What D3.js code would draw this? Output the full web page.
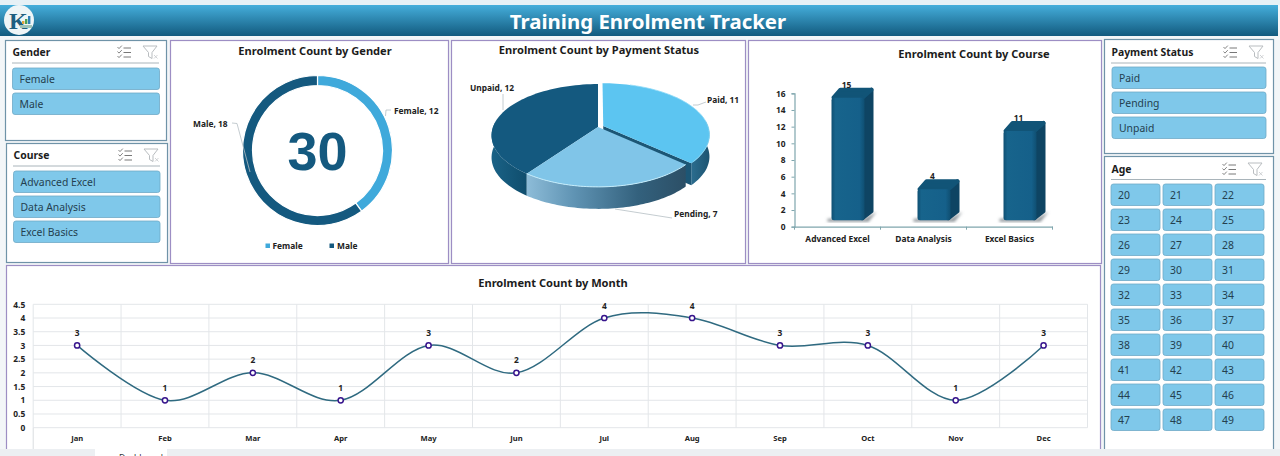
<!DOCTYPE html>
<html>
<head>
<meta charset="utf-8">
<script src="https://cdn.jsdelivr.net/npm/d3@7/dist/d3.min.js"></script>
<style>
html, body { margin: 0; padding: 0; background: #fff; overflow: hidden; }
svg { display: block; }
text { font-family: "Noto Sans", sans-serif; }
</style>
</head>
<body>
<svg id="dash" width="1280" height="456"></svg>
<script>
// data
const genderLabels = ["Female", "Male"];
const genderValues = [12, 18];
const paymentLabels = ["Paid", "Pending", "Unpaid"];
const paymentValues = [11, 7, 12];
const courseLabels = ["Advanced Excel", "Data Analysis", "Excel Basics"];
const courseValues = [15, 4, 11];
const courseTicks = [0, 2, 4, 6, 8, 10, 12, 14, 16];
const months = ["Jan", "Feb", "Mar", "Apr", "May", "Jun", "Jul", "Aug", "Sep", "Oct", "Nov", "Dec"];
const monthValues = [3, 1, 2, 1, 3, 2, 4, 4, 3, 3, 1, 3];
const monthTicks = [0, 0.5, 1, 1.5, 2, 2.5, 3, 3.5, 4, 4.5];
const ages = d3.range(20, 50);

const svg = d3.select("#dash");
const defs = svg.append("defs");
const ink = "#1c1c1c";
const labelSize = 8.4;

function vGrad(id, c1, c2) {
  const g = defs.append("linearGradient").attr("id", id).attr("x1", 0).attr("x2", 0).attr("y1", 0).attr("y2", 1);
  g.append("stop").attr("offset", 0).attr("stop-color", c1);
  g.append("stop").attr("offset", 1).attr("stop-color", c2);
}
function hGrad(id, stops) {
  const g = defs.append("linearGradient").attr("id", id).attr("gradientUnits", "objectBoundingBox");
  stops.forEach(s => g.append("stop").attr("offset", s[0]).attr("stop-color", s[1]));
}
vGrad("headGrad", "#45aedb", "#125a7e");
hGrad("pendWall", [[0, "#8dbcd8"], [0.3, "#5f93b3"], [0.7, "#33617d"], [1, "#2c4f66"]]);
hGrad("paidWall", [[0, "#2b6d8f"], [1, "#1d5471"]]);
hGrad("unpaidWall", [[0, "#1a6286"], [1, "#0f4d6d"]]);
hGrad("barFront", [[0, "#0f5073"], [0.12, "#17648c"], [0.85, "#15608a"], [1, "#0f4f72"]]);
defs.append("filter").attr("id", "soft").append("feGaussianBlur").attr("stdDeviation", 1.6);

// page background and header
svg.append("rect").attr("width", 1280).attr("height", 456).attr("fill", "#f3f6f8");
svg.append("rect").attr("width", 1280).attr("height", 5).attr("fill", "#e6f1f6");
svg.append("rect").attr("y", 5).attr("width", 1278).attr("height", 31).attr("fill", "url(#headGrad)");
svg.append("text").attr("x", 648).attr("y", 28.5).attr("text-anchor", "middle")
  .attr("fill", "#fff").attr("font-size", 20.4).attr("font-weight", 700).text("Training Enrolment Tracker");

// logo
const logo = svg.append("g").attr("transform", "translate(19,20)");
logo.append("circle").attr("r", 15).attr("fill", "#eef5f7");
logo.append("text").attr("x", -10).attr("y", 9).attr("font-size", 24).attr("font-weight", 700)
  .attr("fill", "#1e5f80").style("font-family", "Liberation Serif").text("K");
[[3, -1, 3, "#e0a33a"], [6, -3, 5, "#4aa05a"], [9, -6, 8, "#2f7fb5"]].forEach(b =>
  logo.append("rect").attr("x", b[0]).attr("y", b[1] + 2).attr("width", 2.4).attr("height", b[2]).attr("fill", b[3]));
logo.append("rect").attr("x", 1).attr("y", 5).attr("width", 12).attr("height", 3).attr("fill", "#9fc3b8");

function panel(x, y, w, h, color) {
  svg.append("rect").attr("x", x + 0.5).attr("y", y + 0.5).attr("width", w).attr("height", h)
    .attr("fill", "#fff").attr("stroke", color).attr("stroke-width", 1.2);
}
const purple = "#9d8ec4", slate = "#6f93a8";

// slicers
function slicerIcons(x, y) {
  const g = svg.append("g").attr("transform", `translate(${x},${y})`).attr("fill", "none");
  g.selectAll("path.l").data([-4, 0.5, 5]).join("path").attr("d", d => `M6.5 ${d}H14`).attr("stroke", "#555").attr("stroke-width", 0.8);
  g.selectAll("path.c").data([-4, 0.5, 5]).join("path").attr("d", d => `M0.5 ${d - 1}l1.5 1.6l2.8 -3`).attr("stroke", "#666").attr("stroke-width", 0.8);
  g.append("path").attr("d", "M26 -6H40L35 0.5V6.5L31.5 4.5V0.5Z").attr("stroke", "#b9bdc0").attr("stroke-width", 1);
  g.append("path").attr("d", "M37 3l3.5 3.5M40.5 3l-3.5 3.5").attr("stroke", "#c4c7ca").attr("stroke-width", 0.8);
}
function slicer(x, y, w, h, title, titleY, sepY, iconX) {
  panel(x, y, w, h, slate);
  svg.append("text").attr("x", x + 7.5).attr("y", titleY + 4).attr("font-size", 10.4).attr("font-weight", 700).attr("fill", ink).text(title);
  svg.append("line").attr("x1", x + 7).attr("x2", x + w - 7).attr("y1", sepY).attr("y2", sepY).attr("stroke", "#a9b4ba");
  slicerIcons(iconX, titleY);
}
function buttons(items, x, w, rowY) {
  const g = svg.append("g").selectAll("g").data(items).join("g");
  g.append("rect").attr("x", (d, i) => x(i)).attr("y", (d, i) => rowY(i)).attr("width", w).attr("height", 21.5).attr("rx", 2.5)
    .attr("fill", "#7fc8ea").attr("stroke", "#6ea9c6").attr("stroke-width", 0.8);
  g.append("text").attr("x", (d, i) => x(i) + 7).attr("y", (d, i) => rowY(i) + 14.8).attr("font-size", 10.4).attr("fill", "#24404f").text(d => d);
}
slicer(5, 40, 161, 100, "Gender", 52, 63, 117);
buttons(genderLabels, () => 12.5, 147, i => 68 + i * 25);
slicer(6, 143, 161, 119, "Course", 155, 166, 118);
buttons(courseLabels, () => 13.5, 146.5, i => 171 + i * 25);
slicer(1104, 39, 169, 114, "Payment Status", 52, 63, 1223);
buttons(paymentLabels, () => 1112, 154, i => 67 + i * 25);
slicer(1104, 156, 169, 300, "Age", 169, 179.5, 1222);
buttons(ages, i => 1111 + (i % 3) * 52, 49, i => 184 + Math.floor(i / 3) * 25);

function chartTitle(text, x, y) {
  svg.append("text").attr("x", x).attr("y", y).attr("text-anchor", "middle").attr("font-size", 11.1)
    .attr("font-weight", 700).attr("fill", ink).text(text);
}
function smallBold(g, x, y, text, anchor) {
  return g.append("text").attr("x", x).attr("y", y).attr("text-anchor", anchor || "start").attr("font-size", labelSize)
    .attr("font-weight", 700).attr("fill", "#222").text(text);
}
function leader(pts) {
  svg.append("path").attr("d", d3.line()(pts)).attr("fill", "none").attr("stroke", "#b5bfc4").attr("stroke-width", 0.8);
}

// donut chart
panel(170, 40, 278, 223, purple);
chartTitle("Enrolment Count by Gender", 315, 55);
const genderColor = d3.scaleOrdinal().domain(genderLabels).range(["#3fa9db", "#14597f"]);
const donut = svg.append("g").attr("transform", "translate(317.5,150.5)");
const genderArc = d3.arc().innerRadius(65).outerRadius(75);
const genderPie = d3.pie().sort(null)(genderValues);
donut.selectAll("path").data(genderPie).join("path").attr("d", genderArc)
  .attr("fill", (d, i) => genderColor(genderLabels[i])).attr("stroke", "#fff").attr("stroke-width", 1.2);
donut.append("text").attr("y", 19.5).attr("text-anchor", "middle").attr("font-size", 54).attr("font-weight", 700)
  .attr("fill", "#14597f").style("font-family", "Liberation Sans").text(d3.sum(genderValues));
leader([[385.5, 116], [386, 110], [391, 110]]);
leader([[232, 123], [237, 123.5], [250, 172]]);
smallBold(svg, 394, 113.5, `${genderLabels[0]}, ${genderValues[0]}`);
smallBold(svg, 193, 126.5, `${genderLabels[1]}, ${genderValues[1]}`);
[[265.5, 272.5], [329.5, 337]].forEach((p, i) => {
  svg.append("rect").attr("x", p[0]).attr("y", 243.5).attr("width", 4.5).attr("height", 4.5).attr("fill", genderColor(genderLabels[i]));
  smallBold(svg, p[1], 248.8, genderLabels[i]);
});

// 3D pie chart, slices projected from the angles d3.pie gives
panel(451, 40, 294, 223, purple);
chartTitle("Enrolment Count by Payment Status", 599, 54);
const pieCx = 598, pieCy = 127, pieR = 105, pieK = 50, pieP = 0.165, pieDepth = 22;
function project(u, v) {
  const w = 1 - pieP * v;
  return [pieCx + pieR * u / w, pieCy + pieK * v / w];
}
const paySlices = d3.pie().sort(null)(paymentValues);
function explodeOf(i) { return i === 0 ? 0.055 : 0; }
function rim(d, i, drop) {
  const mid = (d.startAngle + d.endAngle) / 2, e = explodeOf(i);
  return d3.range(d.startAngle, d.endAngle + 0.001, (d.endAngle - d.startAngle) / 60).map(a => {
    const p = project(Math.sin(a) + e * Math.sin(mid), -Math.cos(a) - e * Math.cos(mid));
    return [p[0], p[1] + drop];
  });
}
function apex(d, i, drop) {
  const mid = (d.startAngle + d.endAngle) / 2, e = explodeOf(i);
  const p = project(e * Math.sin(mid), -e * Math.cos(mid));
  return [p[0], p[1] + drop];
}
const pieLine = d3.line();
const pieG = svg.append("g");
const topColor = ["#5cc5f1", "#80c5e8", "#14597f"];
const wallFill = ["url(#paidWall)", "url(#pendWall)", "url(#unpaidWall)"];
function drawWall(i) {
  const d = paySlices[i];
  const front = rim(d, i, 0).filter((p, k) => {
    const a = d.startAngle + (d.endAngle - d.startAngle) * k / 60;
    return Math.cos(a) < 0.12;
  });
  const back = front.map(p => [p[0], p[1] + pieDepth]).reverse();
  pieG.append("path").attr("d", pieLine(front.concat(back)) + "Z").attr("fill", wallFill[i]);
}
function drawTop(i) {
  const d = paySlices[i];
  pieG.append("path").attr("d", pieLine([apex(d, i, 0)].concat(rim(d, i, 0))) + "Z").attr("fill", topColor[i]);
}
function drawCut(i) {
  const d = paySlices[i], r = rim(d, i, 0), end = r[r.length - 1], a = apex(d, i, 0);
  pieG.append("path").attr("d", pieLine([a, end, [end[0], end[1] + pieDepth], [a[0], a[1] + pieDepth]]) + "Z").attr("fill", "#1c5675");
}
drawWall(0); drawCut(0); drawTop(0);
drawWall(2); drawTop(2);
drawWall(1); drawTop(1);
pieG.append("path").attr("d", pieLine(rim(paySlices[1], 1, 0))).attr("fill", "none").attr("stroke", "#c4ecfb").attr("stroke-width", 1);
pieG.append("path").attr("d", pieLine(rim(paySlices[0], 0, 0).slice(8, 60))).attr("fill", "none").attr("stroke", "#8fdaf7").attr("stroke-width", 0.8);
leader([[693, 105], [698, 105], [706, 102]]);
leader([[615, 209], [672, 218]]);
leader([[503, 94], [503, 110]]);
smallBold(svg, 707, 103, `${paymentLabels[0]}, ${paymentValues[0]}`);
smallBold(svg, 674, 217, `${paymentLabels[1]}, ${paymentValues[1]}`);
smallBold(svg, 470, 91, `${paymentLabels[2]}, ${paymentValues[2]}`);

// 3D column chart
panel(748, 40, 353, 223, purple);
chartTitle("Enrolment Count by Course", 974, 58);
const barX = d3.scaleBand().domain(courseLabels).range([794.5, 1052.5]);
const barY = d3.scaleLinear().domain([0, 16]).range([226.7, 93.3]);
const barAxisColor = "#7fa6ad";
const barW = 33, barDx = 9, barDy = 10, barRound = 2;
const barLeft = c => barX(c) + barX.bandwidth() / 2 - 6;
const barBars = svg.append("g").selectAll("g").data(courseLabels).join("g");
barBars.append("path").attr("filter", "url(#soft)").attr("fill", "#8d9499")
  .attr("d", c => `M${barLeft(c) - 4} ${barY(0) - 8}H${barLeft(c) + barW}L${barLeft(c) + barW + barDx + 3} ${barY(0) - 15}L${barLeft(c) + barW + 4} ${barY(0) - 5}H${barLeft(c) - 4}Z`);
barBars.append("path").attr("fill", "#0e4463").attr("stroke", "#0e4463").attr("stroke-width", barRound * 2).attr("stroke-linejoin", "round")
  .attr("d", (c, i) => {
    const t = barY(courseValues[i]) - 4, l = barLeft(c), b = barY(0) - 6.5 - barRound;
    return `M${l + barW - barRound} ${t}L${l + barW + barDx - barRound} ${t - barDy + barRound}V${b - barDy + 3}L${l + barW - barRound} ${b}Z`;
  });
barBars.append("path").attr("fill", "#115477").attr("stroke", "#115477").attr("stroke-width", barRound * 2).attr("stroke-linejoin", "round")
  .attr("d", (c, i) => {
    const t = barY(courseValues[i]) - 4, l = barLeft(c);
    return `M${l + barRound} ${t}L${l + barDx} ${t - barDy + barRound}H${l + barW + barDx - barRound}L${l + barW - barRound} ${t}Z`;
  });
barBars.append("rect").attr("x", c => barLeft(c)).attr("y", (c, i) => barY(courseValues[i]) - 4)
  .attr("width", barW).attr("height", (c, i) => barY(0) - 6.5 - barY(courseValues[i]) + 4)
  .attr("rx", 2.5).attr("fill", "url(#barFront)");
barBars.append("text").attr("x", c => barLeft(c) + 15).attr("y", (c, i) => barY(courseValues[i]) - 14)
  .attr("text-anchor", "middle").attr("font-size", labelSize).attr("font-weight", 700).attr("fill", "#222").text((c, i) => courseValues[i]);
const barYAxis = svg.append("g").attr("transform", "translate(794.5,0)")
  .call(d3.axisLeft(barY).tickValues(courseTicks).tickSize(3).tickPadding(6));
const barXAxis = svg.append("g").attr("transform", "translate(0,226.7)")
  .call(d3.axisBottom(barX).tickSize(0).tickPadding(9));
barXAxis.selectAll(".tick").append("line").attr("x1", barX.bandwidth() / 2).attr("x2", barX.bandwidth() / 2).attr("y2", 3).attr("stroke", barAxisColor);
barXAxis.append("line").attr("x1", 794.5).attr("x2", 794.5).attr("y2", 3).attr("stroke", barAxisColor);
[barYAxis, barXAxis].forEach(a => {
  a.selectAll("path.domain").attr("stroke", barAxisColor).attr("stroke-width", 1.2);
  a.selectAll(".tick line").attr("stroke", barAxisColor);
  a.selectAll("text").attr("font-size", labelSize).attr("font-weight", 700).attr("fill", "#222").style("font-family", '"Noto Sans", sans-serif');
});

// line chart
panel(6, 265, 1094, 200, purple);
chartTitle("Enrolment Count by Month", 553, 287);
const lineX = d3.scaleBand().domain(months).range([33.2, 1087.5]);
const lineY = d3.scaleLinear().domain([0, 4.5]).range([427.7, 304.3]);
const monthMid = m => lineX(m) + lineX.bandwidth() / 2;
const grid = svg.append("g").attr("stroke", "#e3e6e9").attr("stroke-width", 1);
grid.selectAll("line.h").data(monthTicks).join("line").attr("x1", 33.2).attr("x2", 1087.5)
  .attr("y1", d => lineY(d)).attr("y2", d => lineY(d));
grid.selectAll("line.v").data(months.concat("end")).join("line")
  .attr("x1", (m, i) => i < 12 ? lineX(m) : 1087.5).attr("x2", (m, i) => i < 12 ? lineX(m) : 1087.5)
  .attr("y1", 304.3).attr("y2", 427.7);
svg.append("line").attr("x1", 33.2).attr("x2", 33.2).attr("y1", 427.7).attr("y2", 449).attr("stroke", "#d9dde0");
const lineYAxis = svg.append("g").attr("transform", "translate(33.2,0)")
  .call(d3.axisLeft(lineY).tickValues(monthTicks).tickFormat(d3.format("~g")).tickSize(0).tickPadding(8));
const lineXAxis = svg.append("g").attr("transform", "translate(0,427.7)")
  .call(d3.axisBottom(lineX).tickSize(0).tickPadding(8));
[lineYAxis, lineXAxis].forEach(a => {
  a.select("path.domain").remove();
  a.selectAll("text").style("font-family", '"Noto Sans", sans-serif').attr("font-weight", 700).attr("fill", "#222");
});
lineYAxis.selectAll("text").attr("font-size", labelSize);
lineXAxis.selectAll("text").attr("font-size", 7.6);
const monthLine = d3.line().x(m => monthMid(m)).y((m, i) => lineY(monthValues[i])).curve(d3.curveCatmullRom.alpha(0));
svg.append("path").attr("d", monthLine(months)).attr("fill", "none").attr("stroke", "#2f6a80").attr("stroke-width", 1.5);
svg.append("g").selectAll("circle").data(months).join("circle")
  .attr("cx", monthMid).attr("cy", (m, i) => lineY(monthValues[i])).attr("r", 2.6)
  .attr("fill", "#fff").attr("stroke", "#37148c").attr("stroke-width", 1.5);
svg.append("g").selectAll("text").data(months).join("text")
  .attr("x", monthMid).attr("y", (m, i) => lineY(monthValues[i]) - 9.5).attr("text-anchor", "middle")
  .attr("font-size", labelSize).attr("font-weight", 700).attr("fill", "#222").text((m, i) => monthValues[i]);

// sheet tabs at the bottom edge
svg.append("rect").attr("y", 449).attr("width", 1280).attr("height", 7).attr("fill", "#eceff2");
svg.append("rect").attr("x", 95).attr("y", 449).attr("width", 72).attr("height", 7).attr("fill", "#fff");
svg.append("text").attr("x", 141).attr("y", 460.5).attr("text-anchor", "middle").attr("font-size", 8.5).attr("fill", "#333").text("Dashboard");
</script>
</body>
</html>
